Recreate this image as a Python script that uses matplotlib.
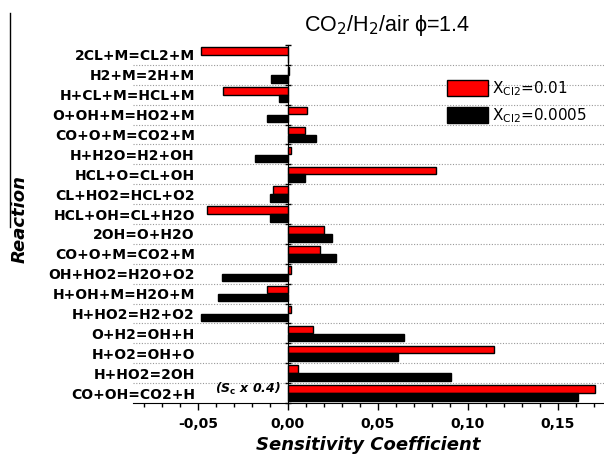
import numpy as np
import matplotlib
matplotlib.use("Agg")
import matplotlib.pyplot as plt
from matplotlib.lines import Line2D
from matplotlib.ticker import MultipleLocator, FixedLocator, FuncFormatter

# --- Data ---
reactions = ["2CL+M=CL2+M", "H2+M=2H+M", "H+CL+M=HCL+M", "O+OH+M=HO2+M",
             "CO+O+M=CO2+M", "H+H2O=H2+OH", "HCL+O=CL+OH", "CL+HO2=HCL+O2",
             "HCL+OH=CL+H2O", "2OH=O+H2O", "CO+O+M=CO2+M", "OH+HO2=H2O+O2",
             "H+OH+M=H2O+M", "H+HO2=H2+O2", "O+H2=OH+H", "H+O2=OH+O",
             "H+HO2=2OH", "CO+OH=CO2+H"]
# X_Cl2 = 0.01 (red)
sens_high = [-0.0485, 0.0008, -0.0360, 0.0107, 0.0098, 0.0017, 0.0822, -0.0085,
             -0.0448, 0.0200, 0.0181, 0.0017, -0.0115, 0.0015, 0.0137, 0.1144,
             0.0057, 0.1706]
# X_Cl2 = 0.0005 (black)
sens_low = [0.0, -0.0091, -0.0048, -0.0118, 0.0156, -0.0183, 0.0094, -0.0100,
            -0.0100, 0.0248, 0.0267, -0.0365, -0.0390, -0.0480, 0.0644, 0.0610,
            0.0906, 0.1610]
labels = ["X$_{\\rm Cl2}$=0.01", "X$_{\\rm Cl2}$=0.0005"]

W, H = 604, 458
fig = plt.figure(figsize=(W / 100, H / 100), dpi=100)
ax = fig.add_axes([133 / W, 1 - 403 / H, (W - 133) / W, (403 - 45) / H])

n = len(reactions)
ypos = np.arange(n)[::-1]
bh = 0.38
ax.barh(ypos + 0.2, sens_high, height=bh, color='#ff0000', edgecolor='black',
        linewidth=1, label=labels[0], zorder=3)
ax.barh(ypos - 0.2, sens_low, height=bh, color='black', edgecolor='black',
        linewidth=1, label=labels[1], zorder=3)

ax.set_xlim(-0.086, 0.1756)
ax.set_ylim(-0.5, n - 0.5)

# dotted separators between reactions
bounds = np.arange(n + 1) - 0.5
ax.hlines(bounds[1:-1], -0.086, 0.1756, colors='#999999', linestyles=(0, (1, 1.5)),
          linewidth=0.8, zorder=1)

# y axis sits on zero
for s in ['top', 'right']:
    ax.spines[s].set_visible(False)
ax.spines['left'].set_position(('data', 0))
ax.spines['left'].set_zorder(4)
ax.set_yticks(ypos)
ax.set_yticklabels(reactions, fontweight='bold')
ax.yaxis.set_minor_locator(FixedLocator(bounds))
ax.tick_params(axis='y', which='major', length=0, pad=67, labelsize=10)
ax.tick_params(axis='y', which='minor', length=5, direction='inout', width=1)

ax.xaxis.set_major_locator(MultipleLocator(0.05))
ax.xaxis.set_minor_locator(MultipleLocator(0.01))
ax.xaxis.set_major_formatter(FuncFormatter(lambda v, p: f"{v:.2f}".replace('.', ',')))
ax.tick_params(axis='x', which='major', length=5, width=1, pad=5, labelsize=10)
ax.tick_params(axis='x', which='minor', length=3, width=1)
for t in ax.get_xticklabels():
    t.set_fontweight('bold')

ax.set_xlabel("Sensitivity Coefficient", fontsize=13, fontweight='bold',
              fontstyle='italic', labelpad=4)
fig.text(20 / W, 1 - 219 / H, "Reaction", rotation=90, ha='center', va='center',
         fontsize=13, fontweight='bold', fontstyle='italic')

ax.text(-0.022, 0.2, "(S$_\\mathbf{c}$ x 0.4)", ha='center', va='center',
        fontsize=9, fontweight='bold', fontstyle='italic', zorder=5)

fig.text(387 / W, 1 - 25 / H, "CO$_2$/H$_2$/air \u03d5=1.4", ha='center', va='center',
         fontsize=15.5, family=['Liberation Sans', 'DejaVu Sans'])

ax.legend(loc='upper left', bbox_to_anchor=(447 / W, 1 - 79 / H),
          bbox_transform=fig.transFigure, frameon=False, fontsize=11,
          handlelength=2.7, handleheight=1.25, handletextpad=0.25,
          labelspacing=0.55, borderpad=0, borderaxespad=0)

fig.add_artist(Line2D([10 / W, 10 / W], [1 - 13 / H, 1 - 227 / H], color='black',
                      linewidth=1))

fig.savefig("out.png", dpi=100)
